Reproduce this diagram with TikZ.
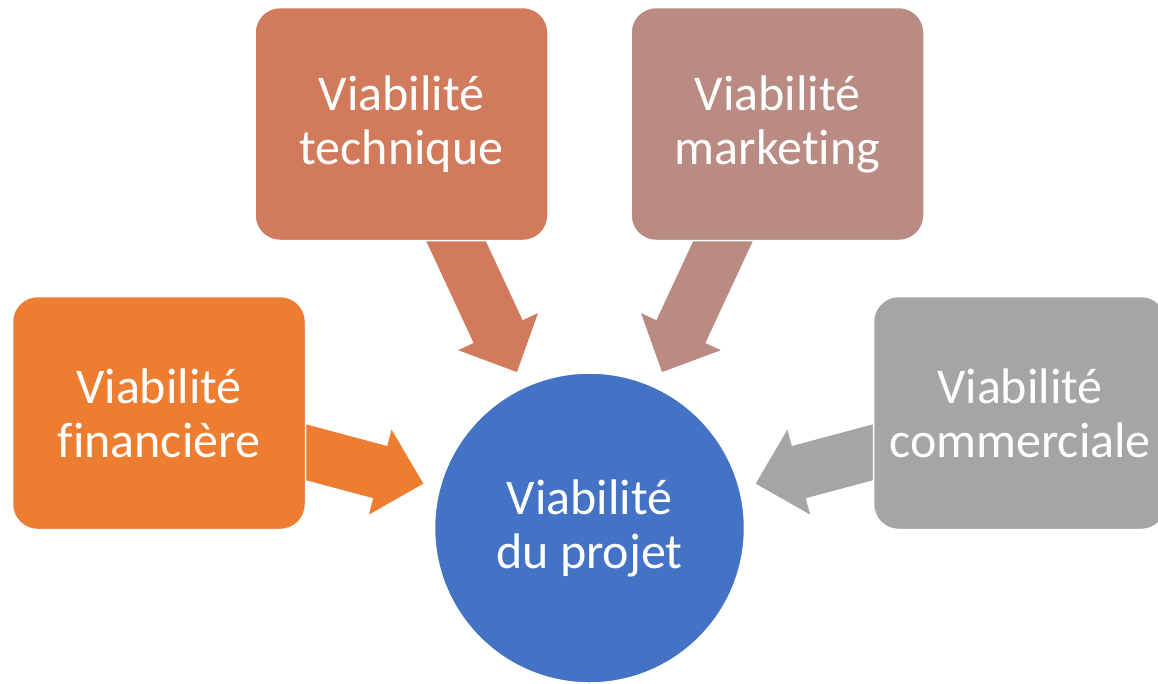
\documentclass[tikz,border=0pt]{standalone}
\usepackage{fontspec}
\setmainfont{Carlito}[Ligatures=NoCommon]
\usepackage{tikz}
\usetikzlibrary{calc, backgrounds}
\usepackage{xcolor}

\definecolor{finorange}{HTML}{ED7D31}
\definecolor{techbrown}{HTML}{D17B5C}
\definecolor{mktrose}{HTML}{B98B82}
\definecolor{comgrey}{HTML}{A5A5A5}
\definecolor{projblue}{HTML}{4472C4}

\tikzset{
    viabox/.style={draw=white, line width=1.5pt, rounded corners=25pt,
        minimum width=293pt, minimum height=233pt, align=center,
        text=white, font=\fontsize{50}{54}\selectfont},
    viacircle/.style={circle, draw=white, line width=1.5pt, fill=projblue,
        minimum size=310pt, align=center, text=white,
        font=\fontsize{50}{54}\selectfont}
}

% block arrow from box #1 towards circle #2
\newcommand{\blockarrow}[3]{%
    \coordinate (tip) at ($(#2)!172pt!(#1)$);
    \coordinate (neck) at ($(#2)!216.6pt!(#1)$);
    \fill[#3] ($(#1)!27pt!90:(tip)$) -- ($(neck)!27pt!90:(tip)$)
        -- ($(neck)!44pt!90:(tip)$) -- (tip)
        -- ($(neck)!44pt!-90:(tip)$) -- ($(neck)!27pt!-90:(tip)$)
        -- ($(#1)!27pt!-90:(tip)$) -- cycle;
}

\begin{document}
\begin{tikzpicture}[x=1pt, y=1pt]
    \useasboundingbox (0,0) rectangle (1158,-683);

    % boxes round the project
    \node[viabox, fill=finorange] (fin) at (159,-413) {Viabilité\\financière};
    \node[viabox, fill=techbrown] (tech) at (401.5,-124) {Viabilité\\technique};
    \node[viabox, fill=mktrose] (mkt) at (777.5,-124) {Viabilité\\marketing};
    \node[viabox, fill=comgrey] (com) at (1020,-413) {Viabilité\\commerciale};

    % centre
    \node[viacircle] (proj) at (589.5,-528) {Viabilité\\du projet};

    % arrows behind the boxes
    \begin{scope}[on background layer]
        \blockarrow{fin.center}{proj.center}{finorange}
        \blockarrow{tech.center}{proj.center}{techbrown}
        \blockarrow{mkt.center}{proj.center}{mktrose}
        \blockarrow{com.center}{proj.center}{comgrey}
    \end{scope}
\end{tikzpicture}
\end{document}
